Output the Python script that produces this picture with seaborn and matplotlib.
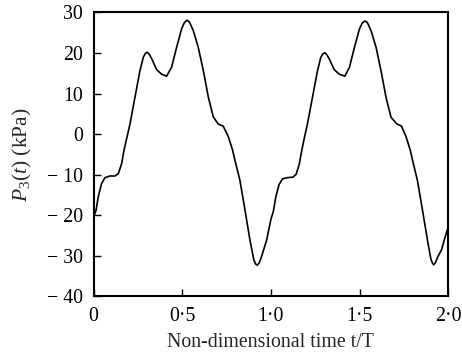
import matplotlib
matplotlib.use("Agg")
import matplotlib.pyplot as plt
import seaborn as sns
import pandas as pd

# values, t/T and pressure in kPa
t_period1 = [0.0, 0.014, 0.027, 0.046, 0.065, 0.093, 0.121, 0.14, 0.159, 0.172,
             0.19, 0.206, 0.234, 0.262, 0.281, 0.292, 0.303, 0.314, 0.328, 0.356,
             0.384, 0.412, 0.44, 0.469, 0.497, 0.512, 0.527, 0.54, 0.562, 0.59,
             0.619, 0.647, 0.675, 0.703, 0.731, 0.759, 0.784, 0.797, 0.825, 0.854,
             0.882, 0.904, 0.914, 0.923, 0.933, 0.947, 0.976]
p_period1 = [-20.5, -18.8, -15.4, -12.1, -10.7, -10.3, -10.3, -9.7, -7.2, -3.9,
             -0.5, 2.6, 9.2, 15.7, 19.0, 19.9, 20.2, 19.7, 18.6, 15.9,
             14.8, 14.3, 16.5, 21.5, 26.0, 27.5, 28.1, 27.7, 25.6, 21.5,
             15.7, 9.2, 4.3, 2.5, 2.0, -0.5, -3.9, -6.4, -11.3, -18.7,
             -26.1, -31.0, -32.0, -32.3, -31.8, -30.2, -26.1]
t_period2 = [1.0, 1.014, 1.027, 1.046, 1.066, 1.095, 1.124, 1.142, 1.16, 1.174,
             1.19, 1.206, 1.234, 1.262, 1.281, 1.293, 1.304, 1.315, 1.33, 1.357,
             1.385, 1.417, 1.443, 1.471, 1.499, 1.515, 1.53, 1.543, 1.565, 1.593,
             1.621, 1.649, 1.677, 1.708, 1.736, 1.762, 1.786, 1.799, 1.826, 1.855,
             1.883, 1.902, 1.911, 1.918, 1.928, 1.943, 1.962, 1.978, 2.0]
p_period2 = [-21.0, -19.0, -15.6, -12.4, -11.0, -10.7, -10.6, -9.9, -7.4, -4.0,
             -0.6, 2.5, 9.0, 15.5, 18.9, 19.8, 20.1, 19.6, 18.5, 15.9,
             14.8, 14.3, 16.5, 21.4, 25.9, 27.4, 27.9, 27.6, 25.5, 21.4,
             15.6, 9.1, 4.2, 2.6, 2.0, -0.6, -4.0, -6.5, -11.4, -18.8,
             -26.2, -30.8, -31.8, -32.2, -31.6, -30.0, -28.5, -26.0, -22.8]

y_ticks = [30, 20, 10, 0, -10, -20, -30, -40]
y_labels = ["30", "20", "10", "0", "\u2212 10", "\u2212 20", "\u2212 30", "\u2212 40"]
x_ticks = [0, 0.5, 1.0, 1.5, 2.0]
x_labels = ["0", "0\u00b75", "1\u00b70", "1\u00b75", "2\u00b70"]

df = pd.DataFrame({"t": t_period1 + t_period2, "p": p_period1 + p_period2})

sns.set_style("ticks")
plt.rcParams["font.family"] = ["Liberation Serif", "DejaVu Serif"]
plt.rcParams["mathtext.fontset"] = "custom"
plt.rcParams["mathtext.rm"] = "Liberation Serif"
plt.rcParams["mathtext.it"] = "Liberation Serif:italic"

fig = plt.figure(figsize=(4.62, 3.61), dpi=100)
ax = fig.add_axes([0.2024, 0.1787, 0.7679, 0.7867])

sns.lineplot(data=df, x="t", y="p", ax=ax, color="black", linewidth=1.2,
             sort=False, estimator=None)

ax.set_xlim(0, 2.0)
ax.set_ylim(-40, 30)
ax.set_xticks(x_ticks)
ax.set_xticklabels(x_labels)
ax.set_yticks(y_ticks)
ax.set_yticklabels(y_labels)
ax.tick_params(direction="in", length=5, width=1.0, labelsize=14.3,
               colors="black", pad=7.5)
for side in ["top", "right", "bottom", "left"]:
    ax.spines[side].set_visible(True)
    ax.spines[side].set_linewidth(1.5)
    ax.spines[side].set_color("black")

ax.set_xlabel("Non-dimensional time t/T", fontsize=14.3, labelpad=5)
ax.set_ylabel("$P_3(t)$ (kPa)", fontsize=15.5, labelpad=9)

fig.savefig("out.png", dpi=100, facecolor="white")
